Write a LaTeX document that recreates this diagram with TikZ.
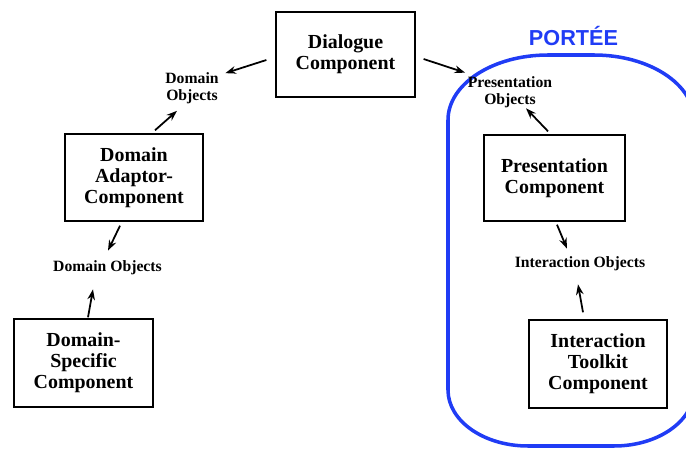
\documentclass[tikz,border=0pt]{standalone}
\usepackage{fontspec}
\setmainfont{Liberation Serif}
\newfontfamily\titlefont{Liberation Sans}
\usetikzlibrary{arrows.meta}
\definecolor{cZone}{RGB}{32,60,245}
\tikzset{
  comp/.style={draw,line width=1.5pt,align=center,inner sep=0pt,font=\fontsize{17}{17.8}\selectfont\bfseries},
  lbl/.style={align=center,inner sep=0pt,font=\fontsize{13.4}{14.5}\selectfont\bfseries},
  arr/.style={-{Stealth[length=9pt,width=6.5pt]},line width=1.5pt},
}

\begin{document}
\begin{tikzpicture}[x=0.03cm,y=-0.03cm]
\useasboundingbox (0,0) rectangle (686,450);
\clip (0,0) rectangle (686,450);
\draw[cZone,line width=3pt] (448,390) -- (448,120) arc[start angle=180,end angle=270,x radius=100,y radius=65] -- (594,55) arc[start angle=270,end angle=360,x radius=100,y radius=65] -- (694,390) arc[start angle=0,end angle=90,x radius=80,y radius=56] -- (528,446) arc[start angle=90,end angle=180,x radius=80,y radius=56] -- cycle;
\node[font=\titlefont\fontsize{18.5}{18.5}\selectfont\bfseries,text=cZone] (portee) at (573.5,36) {PORTÉE};
\node[comp,minimum width=118.2pt,minimum height=72.3pt] (dlg) at (345.5,54.5) {Dialogue\\Component};
\node[comp,minimum width=117.4pt,minimum height=74pt] (ada) at (134,177.5) {Domain\\Adaptor-\\Component};
\node[comp,minimum width=118.2pt,minimum height=74.8pt] (dsp) at (83.5,363) {Domain-\\Specific\\Component};
\node[comp,minimum width=119.9pt,minimum height=73.1pt] (pres) at (554.5,178) {Presentation\\Component};
\node[comp,minimum width=117.4pt,minimum height=74.8pt] (itk) at (598,364) {Interaction\\Toolkit\\Component};
\node[lbl] (dobjA) at (192,88) {Domain\\Objects};
\node[lbl] (dobjB) at (107.5,267.5) {Domain Objects};
\node[lbl] (pobj) at (510,92.5) {Presentation\\Objects};
\node[lbl] (iobj) at (580,264) {Interaction Objects};
\draw[arr] ([shift={(-9,5.5)}]dlg.west) -- ([shift={(6.5,1)}]dobjA.north east);
\draw[arr] ([shift={(21,-3)}]ada.north) -- ([shift={(-15,7)}]dobjA.south);
\draw[arr] ([shift={(-14,4)}]ada.south) -- ([shift={(0.5,-9.5)}]dobjB.north);
\draw[arr] ([shift={(4.5,-1)}]dsp.north) -- ([shift={(-14.5,14.5)}]dobjB.south);
\draw[arr] ([shift={(8,4.5)}]dlg.east) -- ([shift={(-2.5,-4)}]pobj.north west);
\draw[arr] ([shift={(-6.5,-3)}]pres.north) -- ([shift={(16,0)}]pobj.south);
\draw[arr] ([shift={(2.5,3)}]pres.south) -- ([shift={(-13,-8)}]iobj.north);
\draw[arr] ([shift={(-15,-7)}]itk.north) -- ([shift={(-2,13)}]iobj.south);
\end{tikzpicture}
\end{document}
